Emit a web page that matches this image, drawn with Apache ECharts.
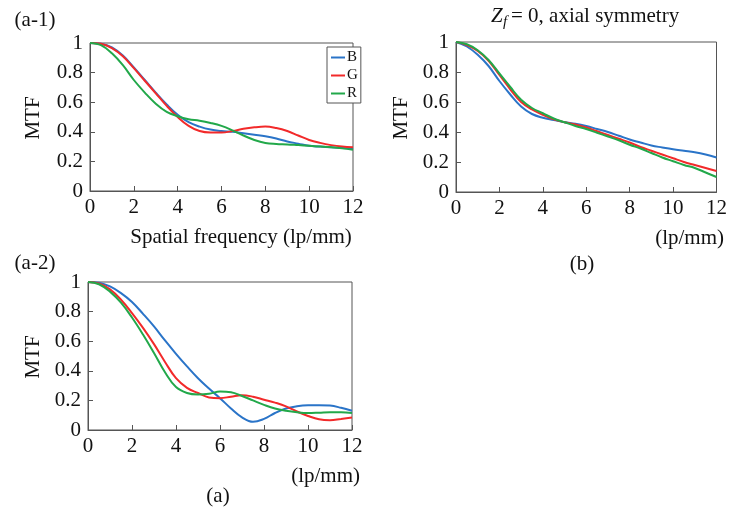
<!DOCTYPE html>
<html>
<head>
<meta charset="utf-8">
<script src="https://cdn.jsdelivr.net/npm/echarts@6/dist/echarts.min.js"></script>
<style>
  html, body { margin: 0; padding: 0; background: #fff; }
  #chart { width: 730px; height: 512px; }
</style>
</head>
<body>
<div id="chart"></div>
<script>
// spatial frequency (lp/mm), step 0.5
var freq = [0, 0.5, 1, 1.5, 2, 2.5, 3, 3.5, 4, 4.5, 5, 5.5, 6, 6.5, 7, 7.5, 8, 8.5, 9, 9.5, 10, 10.5, 11, 11.5, 12]

// (a-1)
var a1B = [1, 0.995, 0.97, 0.915, 0.835, 0.75, 0.665, 0.585, 0.515, 0.465, 0.435, 0.415, 0.405, 0.4, 0.39, 0.38, 0.37, 0.355, 0.335, 0.32, 0.305, 0.3, 0.295, 0.29, 0.287]
var a1G = [1, 0.995, 0.965, 0.91, 0.83, 0.745, 0.66, 0.575, 0.5, 0.44, 0.405, 0.395, 0.395, 0.405, 0.42, 0.43, 0.435, 0.425, 0.405, 0.375, 0.345, 0.325, 0.31, 0.3, 0.295]
var a1R = [1, 0.985, 0.93, 0.85, 0.75, 0.665, 0.59, 0.535, 0.505, 0.485, 0.475, 0.46, 0.44, 0.41, 0.375, 0.345, 0.325, 0.318, 0.315, 0.31, 0.305, 0.3, 0.295, 0.288, 0.278]

// (a-2)
var a2B = [1, 0.995, 0.97, 0.925, 0.865, 0.785, 0.7, 0.605, 0.515, 0.43, 0.35, 0.28, 0.215, 0.145, 0.085, 0.055, 0.075, 0.115, 0.145, 0.16, 0.167, 0.168, 0.165, 0.15, 0.13]
var a2G = [1, 0.99, 0.95, 0.88, 0.79, 0.69, 0.58, 0.46, 0.35, 0.285, 0.25, 0.22, 0.215, 0.225, 0.235, 0.225, 0.205, 0.185, 0.16, 0.125, 0.095, 0.072, 0.066, 0.075, 0.085]
var a2R = [1, 0.985, 0.935, 0.86, 0.76, 0.645, 0.52, 0.39, 0.29, 0.25, 0.24, 0.245, 0.26, 0.255, 0.23, 0.2, 0.17, 0.145, 0.13, 0.12, 0.115, 0.117, 0.12, 0.12, 0.115]

// (b) Zf = 0, axial symmetry
var bB = [1, 0.97, 0.915, 0.84, 0.74, 0.65, 0.57, 0.52, 0.495, 0.48, 0.465, 0.455, 0.44, 0.42, 0.4, 0.375, 0.35, 0.33, 0.31, 0.297, 0.285, 0.275, 0.265, 0.25, 0.23]
var bG = [1, 0.98, 0.94, 0.875, 0.78, 0.685, 0.6, 0.55, 0.515, 0.485, 0.465, 0.45, 0.43, 0.405, 0.38, 0.355, 0.33, 0.3, 0.275, 0.25, 0.225, 0.2, 0.18, 0.16, 0.14]
var bR = [1, 0.985, 0.945, 0.88, 0.79, 0.7, 0.615, 0.56, 0.525, 0.49, 0.465, 0.44, 0.42, 0.395, 0.37, 0.345, 0.315, 0.29, 0.26, 0.23, 0.205, 0.18, 0.16, 0.13, 0.1]

var xTicks = [0, 2, 4, 6, 8, 10, 12]
var yTicks = [0, 0.2, 0.4, 0.6, 0.8, 1]

var FONT = "'Liberation Serif', 'Times New Roman', serif"
var FS = 21
var colors = { B: '#2a74c8', G: '#f22a2a', R: '#22a84a' }

function pairs(ys) {
  return freq.map(function (x, i) { return [x, ys[i]] })
}

var grids = [
  { left: 90, top: 43, width: 263, height: 148 },
  { left: 456, top: 42, width: 264, height: 150 },
  { left: 88, top: 282, width: 264, height: 148 }
]

function xAxis(idx) {
  return {
    gridIndex: idx, type: 'value', min: xTicks[0], max: xTicks[xTicks.length - 1], interval: 2,
    axisLine: { lineStyle: { color: '#555', width: 1 } },
    axisTick: { inside: true, length: 5, lineStyle: { color: '#555' } },
    axisLabel: { color: '#111', fontFamily: FONT, fontSize: FS, margin: 6 },
    splitLine: { show: false }
  }
}
function yAxis(idx) {
  return {
    gridIndex: idx, type: 'value', min: yTicks[0], max: yTicks[yTicks.length - 1], interval: 0.2,
    axisLine: { lineStyle: { color: '#555', width: 1 } },
    axisTick: { inside: true, length: 5, lineStyle: { color: '#555' } },
    axisLabel: { color: '#111', fontFamily: FONT, fontSize: FS, margin: 7 },
    splitLine: { show: false }
  }
}

function line(name, idx, ys) {
  return {
    name: name, type: 'line', xAxisIndex: idx, yAxisIndex: idx,
    data: pairs(ys), smooth: 0.4, showSymbol: false, silent: true,
    lineStyle: { color: colors[name], width: 2 }, itemStyle: { color: colors[name] }
  }
}

function txt(x, y, s, extra) {
  var style = { text: s, fill: '#111', font: FS + 'px ' + FONT, textAlign: 'center', textVerticalAlign: 'middle' }
  for (var k in extra) style[k] = extra[k]
  return { type: 'text', x: x, y: y, style: style, z: 10 }
}

function mtf(x, y) {
  return { type: 'text', x: x, y: y, rotation: Math.PI / 2, style: { text: 'MTF', fill: '#111', font: FS + 'px ' + FONT, textAlign: 'center', textVerticalAlign: 'middle' } }
}

var chart = echarts.init(document.getElementById('chart'))
var option = {
  animation: false,
  grid: grids.map(function (g) {
    return Object.assign({ show: true, borderColor: '#555', borderWidth: 1, backgroundColor: 'transparent' }, g)
  }),
  xAxis: [xAxis(0), xAxis(1), xAxis(2)],
  yAxis: [yAxis(0), yAxis(1), yAxis(2)],
  legend: {
    data: ['B', 'G', 'R'], orient: 'vertical', left: 327, top: 47,
    backgroundColor: '#fff', borderColor: '#555', borderWidth: 1,
    padding: [3, 3, 2, 4], itemGap: 3, itemWidth: 14, itemHeight: 2, icon: 'rect',
    textStyle: { fontFamily: FONT, fontSize: 15, color: '#111', padding: [0, 0, 0, -3] },
    z: 20
  },
  series: [
    line('B', 0, a1B), line('G', 0, a1G), line('R', 0, a1R),
    line('B', 1, bB), line('G', 1, bG), line('R', 1, bR),
    line('B', 2, a2B), line('G', 2, a2G), line('R', 2, a2R)
  ],
  graphic: [
    txt(35, 20, '(a-1)'),
    txt(35, 263, '(a-2)'),
    txt(241, 237, 'Spatial frequency (lp/mm)'),
    txt(360, 476, '(lp/mm)', { textAlign: 'right' }),
    txt(218, 496, '(a)'),
    txt(724, 238, '(lp/mm)', { textAlign: 'right' }),
    txt(582, 264, '(b)'),
    mtf(33, 118), mtf(401, 118), mtf(33, 357),
    txt(491, 16, 'Z', { textAlign: 'left', font: 'italic ' + FS + 'px ' + FONT }),
    txt(503, 22, 'f', { textAlign: 'left', font: 'italic 15px ' + FONT }),
    txt(511, 16, '= 0, axial symmetry', { textAlign: 'left' })
  ]
}
chart.setOption(option)
</script>
</body>
</html>
